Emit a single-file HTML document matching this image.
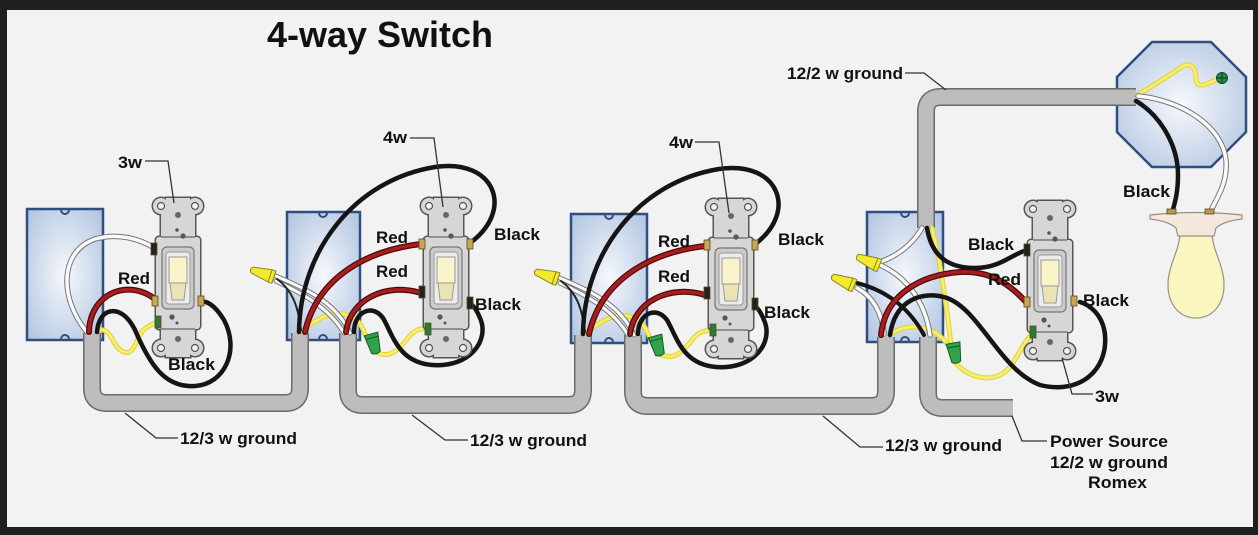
<!DOCTYPE html>
<html><head><meta charset="utf-8"><style>
html,body{margin:0;padding:0;background:#1f1f1f;}
svg{display:block;}
text{font-family:"Liberation Sans",Arial,sans-serif;font-weight:bold;fill:#111;font-size:17px;}
</style></head><body>
<svg width="1258" height="535" viewBox="0 0 1258 535" xmlns="http://www.w3.org/2000/svg">
<defs>
<radialGradient id="boxg" cx="50%" cy="50%" r="65%">
<stop offset="0%" stop-color="#f6f8fc"/><stop offset="100%" stop-color="#b4c7e2"/>
</radialGradient>
<g id="swo">
<circle cx="-17" cy="9" r="8"/><circle cx="17" cy="9" r="8"/><rect x="-12" y="1" width="24" height="18"/>
<rect x="-17" y="12" width="34" height="136"/>
<rect x="-22" y="40" width="44" height="92" rx="3"/>
<circle cx="-17" cy="151" r="8"/><circle cx="17" cy="151" r="8"/><rect x="-12" y="142" width="24" height="18"/>
</g>
<g id="sw">
<use href="#swo" fill="#555" stroke="#555" stroke-width="3"/>
<use href="#swo" fill="#d6d6d6"/>
<line x1="-17" y1="40" x2="17" y2="40" stroke="#666" stroke-width="1.2"/>
<line x1="-17" y1="132" x2="17" y2="132" stroke="#666" stroke-width="1.2"/>
<circle cx="-17" cy="9" r="3.5" fill="#f2f2f2" stroke="#555" stroke-width="1.2"/>
<circle cx="17" cy="9" r="3.5" fill="#f2f2f2" stroke="#555" stroke-width="1.2"/>
<circle cx="-17" cy="151" r="3.5" fill="#f2f2f2" stroke="#555" stroke-width="1.2"/>
<circle cx="17" cy="151" r="3.5" fill="#f2f2f2" stroke="#555" stroke-width="1.2"/>
<circle cx="0" cy="18" r="3" fill="#666"/>
<circle cx="0" cy="142" r="3" fill="#666"/>
<circle cx="-1" cy="33" r="1.8" fill="#555"/><circle cx="5" cy="39" r="2.6" fill="#555"/>
<circle cx="-6" cy="120" r="2.6" fill="#555"/><circle cx="-1" cy="126" r="1.5" fill="#555"/>
<rect x="-16" y="50" width="32" height="62" rx="5" fill="#cbcbcb" stroke="#777" stroke-width="1.2"/>
<rect x="-12" y="55" width="24" height="52" rx="3" fill="#ececec" stroke="#999" stroke-width="1"/>
<rect x="-9" y="60" width="18" height="26" fill="#f8f3c9" stroke="#999" stroke-width="1"/>
<polygon points="-8,86 8,86 6,103 -6,103" fill="#ebe3b6" stroke="#999" stroke-width="1"/>
</g>
<g id="ynut"><path d="M0,-3 L19,-6.5 L23,-6.5 L23,6.5 L19,6.5 L0,3 Q-3,0 0,-3 Z" fill="#f3e92e" stroke="#8c8420" stroke-width="1"/><line x1="19" y1="-6" x2="19" y2="6" stroke="#8c8420"/></g>
<g id="gnut"><path d="M-7,0 L7,0 L4.5,19 Q0,22 -4.5,19 Z" fill="#2fa24a" stroke="#145a24" stroke-width="1"/><line x1="-6" y1="4" x2="6" y2="4" stroke="#145a24"/></g>

<!-- section 2 wiring (reused for section 3) -->
<g id="sec2" fill="none" stroke-linecap="round">
<path d="M303,330 C318,318 333,310 348,315 C358,318 362,326 366,336" stroke="#e2d548" stroke-width="5"/>
<path d="M303,330 C318,318 333,310 348,315 C358,318 362,326 366,336" stroke="#f8f06a" stroke-width="2.5"/>
<path d="M376,352 C390,360 400,348 408,338 C414,330 420,328 427,329" stroke="#e2d548" stroke-width="5"/>
<path d="M376,352 C390,360 400,348 408,338 C414,330 420,328 427,329" stroke="#f8f06a" stroke-width="2.5"/>
<path d="M276,276 C302,288 335,300 350,333" stroke="#777" stroke-width="5"/>
<path d="M276,276 C302,288 335,300 350,333" stroke="#fafafa" stroke-width="3"/>
<path d="M276,281 C299,292 328,306 344,333" stroke="#777" stroke-width="5"/>
<path d="M276,281 C299,292 328,306 344,333" stroke="#fafafa" stroke-width="3"/>
<path d="M277,279 C292,290 298,305 301,330" stroke="#222" stroke-width="2"/>
<path d="M299,332 C300,250 355,180 435,167 C495,158 515,210 470,243" stroke="#151515" stroke-width="4.5"/>
<path d="M305,332 C318,275 370,250 421,244" stroke="#4e0a0a" stroke-width="6"/>
<path d="M305,332 C318,275 370,250 421,244" stroke="#a81d1d" stroke-width="3.5"/>
<path d="M346,332 C350,300 385,282 421,293" stroke="#4e0a0a" stroke-width="6"/>
<path d="M346,332 C350,300 385,282 421,293" stroke="#a81d1d" stroke-width="3.5"/>
<path d="M354,332 C354,312 372,303 383,318 C393,335 398,362 432,365 C470,368 490,340 480,318 C476,308 472,304 468,302" stroke="#151515" stroke-width="4.5"/>
<use href="#ynut" transform="translate(252,270) rotate(18)"/>
<use href="#gnut" transform="translate(371,334) rotate(-15)"/>
</g>
</defs>

<rect width="1258" height="535" fill="#1f1f1f"/>
<rect x="7" y="10" width="1246" height="517" fill="#f2f2f2"/>

<!-- boxes -->
<g stroke="#2f4f80" stroke-width="2.5" fill="url(#boxg)">
<rect x="27" y="209" width="76" height="131"/>
<rect x="287" y="212" width="73" height="128"/>
<rect x="571" y="214" width="76" height="129"/>
<rect x="867" y="212" width="76" height="130"/>
<polygon points="1152,42 1211,42 1246,77 1246,132 1211,167 1152,167 1117,132 1117,77"/>
</g>
<g fill="none" stroke="#2f4f80" stroke-width="2">
<path d="M61,210 a4,4 0 0 0 8,0"/><path d="M61,339 a4,4 0 0 1 8,0"/>
<path d="M319,213 a4,4 0 0 0 8,0"/><path d="M319,339 a4,4 0 0 1 8,0"/>
<path d="M605,215 a4,4 0 0 0 8,0"/><path d="M605,342 a4,4 0 0 1 8,0"/>
<path d="M901,213 a4,4 0 0 0 8,0"/><path d="M901,341 a4,4 0 0 1 8,0"/>
</g>

<!-- cables -->
<g fill="none" stroke-linecap="butt">
<g stroke="#6b6b6b" stroke-width="18">
<path d="M92,333 V388 Q92,403 107,403 H285 Q300,403 300,388 V333"/>
<path d="M348,333 V390 Q348,405 363,405 H568 Q583,405 583,390 V335"/>
<path d="M633,335 V391 Q633,406 648,406 H871 Q886,406 886,391 V337"/>
<path d="M928,337 V393 Q928,408 943,408 H1013"/>
<path d="M926,228 V112 Q926,97 941,97 H1136"/>
</g>
<g stroke="#bdbdbd" stroke-width="15">
<path d="M92,333 V388 Q92,403 107,403 H285 Q300,403 300,388 V333"/>
<path d="M348,333 V390 Q348,405 363,405 H568 Q583,405 583,390 V335"/>
<path d="M633,335 V391 Q633,406 648,406 H871 Q886,406 886,391 V337"/>
<path d="M928,337 V393 Q928,408 943,408 H1013"/>
<path d="M926,228 V112 Q926,97 941,97 H1136"/>
</g>
</g>

<!-- section 1 wiring -->
<g fill="none" stroke-linecap="round">
<path d="M100,330 C112,328 112,348 124,352 C136,356 136,334 146,328 C152,324 156,322 159,323" stroke="#e2d548" stroke-width="5"/>
<path d="M100,330 C112,328 112,348 124,352 C136,356 136,334 146,328 C152,324 156,322 159,323" stroke="#f8f06a" stroke-width="2.5"/>
<path d="M87,332 C60,300 58,252 95,239 C120,232 142,240 156,249" stroke="#777" stroke-width="5.5"/>
<path d="M87,332 C60,300 58,252 95,239 C120,232 142,240 156,249" stroke="#fafafa" stroke-width="3.5"/>
<path d="M89,332 C90,292 130,278 156,300" stroke="#4e0a0a" stroke-width="6"/>
<path d="M89,332 C90,292 130,278 156,300" stroke="#a81d1d" stroke-width="3.5"/>
<path d="M97,332 C99,306 122,303 135,330 C150,365 165,388 195,386 C225,384 240,350 224,320 C215,305 206,300 200,302" stroke="#151515" stroke-width="4.5"/>
</g>

<!-- section 2 & 3 wiring -->
<use href="#sec2"/>
<use href="#sec2" transform="translate(284,2)"/>

<!-- section 4 wiring -->
<g fill="none" stroke-linecap="round">
<path d="M932,228 C940,260 946,300 951,345" stroke="#e2d548" stroke-width="5"/>
<path d="M932,228 C940,260 946,300 951,345" stroke="#f8f06a" stroke-width="2.5"/>
<path d="M892,333 C910,322 935,326 948,345" stroke="#e2d548" stroke-width="5"/>
<path d="M892,333 C910,322 935,326 948,345" stroke="#f8f06a" stroke-width="2.5"/>
<path d="M955,362 C965,375 985,382 1000,375 C1015,368 1020,345 1033,333" stroke="#e2d548" stroke-width="5"/>
<path d="M955,362 C965,375 985,382 1000,375 C1015,368 1020,345 1033,333" stroke="#f8f06a" stroke-width="2.5"/>
<path d="M922,228 C912,245 897,256 880,262" stroke="#777" stroke-width="5.5"/>
<path d="M922,228 C912,245 897,256 880,262" stroke="#fafafa" stroke-width="3.5"/>
<path d="M880,265 C905,276 925,300 930,335" stroke="#777" stroke-width="5.5"/>
<path d="M880,265 C905,276 925,300 930,335" stroke="#fafafa" stroke-width="3.5"/>
<path d="M857,288 C872,296 882,312 884,334" stroke="#777" stroke-width="5.5"/>
<path d="M857,288 C872,296 882,312 884,334" stroke="#fafafa" stroke-width="3.5"/>
<path d="M857,283 C885,290 908,306 924,335" stroke="#151515" stroke-width="4"/>
<path d="M881,335 C885,295 920,275 960,272 C995,270 1015,290 1027,303" stroke="#4e0a0a" stroke-width="6"/>
<path d="M881,335 C885,295 920,275 960,272 C995,270 1015,290 1027,303" stroke="#a81d1d" stroke-width="3.5"/>
<path d="M890,335 C895,300 922,290 947,298 C980,310 1000,370 1040,385 C1080,395 1108,370 1105,335 C1103,315 1090,305 1080,302" stroke="#151515" stroke-width="4.5"/>
<path d="M927,228 C932,258 950,268 975,268 C1000,268 1010,255 1027,250" stroke="#151515" stroke-width="4.5"/>
<use href="#ynut" transform="translate(858,257) rotate(22)"/>
<use href="#ynut" transform="translate(833,277) rotate(22)"/>
<use href="#gnut" transform="translate(953,343) rotate(-10)"/>
<!-- octagon wires -->
<path d="M1137,95 C1150,88 1165,78 1180,68 C1190,60 1196,68 1196,78 C1196,90 1205,85 1220,78" stroke="#e2d548" stroke-width="5"/>
<path d="M1137,95 C1150,88 1165,78 1180,68 C1190,60 1196,68 1196,78 C1196,90 1205,85 1220,78" stroke="#f8f06a" stroke-width="2.5"/>
<path d="M1138,96 C1180,100 1222,125 1226,160 C1228,185 1215,200 1210,213" stroke="#777" stroke-width="5.5"/>
<path d="M1138,96 C1180,100 1222,125 1226,160 C1228,185 1215,200 1210,213" stroke="#fafafa" stroke-width="3.5"/>
<path d="M1136,101 C1160,115 1178,145 1178,175 C1178,195 1174,205 1172,213" stroke="#151515" stroke-width="4.5"/>
</g>
<circle cx="1222" cy="78" r="5.5" fill="#2a8a4a" stroke="#124a24" stroke-width="1"/>
<path d="M1217,78 H1227 M1222,73 V83" stroke="#124a24" stroke-width="1.2"/>

<!-- bulb -->
<path d="M1180,232 C1180,250 1168,265 1168,285 C1168,305 1180,318 1196,318 C1212,318 1224,305 1224,285 C1224,265 1212,250 1212,232 Z" fill="#fbf5c0" stroke="#9a9a8a" stroke-width="1.3"/>
<path d="M1150,215 Q1196,210 1242,215 L1242,219 Q1224,221 1216,228 L1214,236 L1178,236 L1176,228 Q1168,221 1150,219 Z" fill="#f4e8dc" stroke="#9a8f85" stroke-width="1.2"/>
<rect x="1167" y="209" width="9" height="5" fill="#b89a50" stroke="#5a4a20" stroke-width="0.8"/>
<rect x="1205" y="209" width="9" height="5" fill="#b89a50" stroke="#5a4a20" stroke-width="0.8"/>

<!-- switches -->
<use href="#sw" transform="translate(178,197)"/>
<use href="#sw" transform="translate(446,197)"/>
<use href="#sw" transform="translate(731,198)"/>
<use href="#sw" transform="translate(1050,200)"/>

<!-- terminals -->
<g stroke="#5a4a20" stroke-width="0.8">
<rect x="151" y="243" width="6" height="12" fill="#222"/>
<rect x="152" y="296" width="6" height="10" fill="#c9a556"/>
<rect x="198" y="296" width="6" height="10" fill="#c9a556"/>
<rect x="155" y="316" width="6" height="12" fill="#2a7a3a"/>
<rect x="419" y="239" width="6" height="10" fill="#c9a556"/>
<rect x="467" y="239" width="6" height="10" fill="#c9a556"/>
<rect x="419" y="286" width="6" height="12" fill="#222"/>
<rect x="467" y="297" width="6" height="12" fill="#222"/>
<rect x="425" y="323" width="6" height="12" fill="#2a7a3a"/>
<rect x="704" y="240" width="6" height="10" fill="#c9a556"/>
<rect x="752" y="240" width="6" height="10" fill="#c9a556"/>
<rect x="704" y="287" width="6" height="12" fill="#222"/>
<rect x="752" y="298" width="6" height="12" fill="#222"/>
<rect x="710" y="324" width="6" height="12" fill="#2a7a3a"/>
<rect x="1024" y="244" width="6" height="12" fill="#222"/>
<rect x="1024" y="297" width="6" height="10" fill="#c9a556"/>
<rect x="1071" y="296" width="6" height="10" fill="#c9a556"/>
<rect x="1030" y="326" width="6" height="12" fill="#2a7a3a"/>
</g>

<!-- leader lines -->
<g fill="none" stroke="#333" stroke-width="1.3">
<path d="M145,161 H168 L174,203"/>
<path d="M410,138 H434 L443,207"/>
<path d="M695,142 H719 L729,213"/>
<path d="M905,73 H924 L946,90"/>
<path d="M1062,358 L1072,394 H1093"/>
<path d="M125,413 L156,438 H178"/>
<path d="M412,415 L445,440 H468"/>
<path d="M823,416 L860,447 H883"/>
<path d="M1012,416 L1022,441 H1047"/>
</g>

<!-- labels -->
<text x="267" y="47" style="font-size:36px" textLength="226" lengthAdjust="spacingAndGlyphs">4-way Switch</text>
<text x="118" y="168" textLength="24" lengthAdjust="spacingAndGlyphs">3w</text>
<text x="118" y="284" textLength="32" lengthAdjust="spacingAndGlyphs">Red</text>
<text x="168" y="370" textLength="47" lengthAdjust="spacingAndGlyphs">Black</text>
<text x="180" y="444" textLength="117" lengthAdjust="spacingAndGlyphs">12/3 w ground</text>
<text x="383" y="143" textLength="24" lengthAdjust="spacingAndGlyphs">4w</text>
<text x="376" y="243" textLength="32" lengthAdjust="spacingAndGlyphs">Red</text>
<text x="376" y="277" textLength="32" lengthAdjust="spacingAndGlyphs">Red</text>
<text x="494" y="240" textLength="46" lengthAdjust="spacingAndGlyphs">Black</text>
<text x="475" y="310" textLength="46" lengthAdjust="spacingAndGlyphs">Black</text>
<text x="470" y="446" textLength="117" lengthAdjust="spacingAndGlyphs">12/3 w ground</text>
<text x="669" y="148" textLength="24" lengthAdjust="spacingAndGlyphs">4w</text>
<text x="658" y="247" textLength="32" lengthAdjust="spacingAndGlyphs">Red</text>
<text x="658" y="282" textLength="32" lengthAdjust="spacingAndGlyphs">Red</text>
<text x="778" y="245" textLength="46" lengthAdjust="spacingAndGlyphs">Black</text>
<text x="764" y="318" textLength="46" lengthAdjust="spacingAndGlyphs">Black</text>
<text x="885" y="451" textLength="117" lengthAdjust="spacingAndGlyphs">12/3 w ground</text>
<text x="787" y="79" textLength="116" lengthAdjust="spacingAndGlyphs">12/2 w ground</text>
<text x="968" y="250" textLength="46" lengthAdjust="spacingAndGlyphs">Black</text>
<text x="988" y="285" textLength="33" lengthAdjust="spacingAndGlyphs">Red</text>
<text x="1083" y="306" textLength="46" lengthAdjust="spacingAndGlyphs">Black</text>
<text x="1123" y="197" textLength="47" lengthAdjust="spacingAndGlyphs">Black</text>
<text x="1095" y="402" textLength="24" lengthAdjust="spacingAndGlyphs">3w</text>
<text x="1050" y="447" textLength="118" lengthAdjust="spacingAndGlyphs">Power Source</text>
<text x="1050" y="468" textLength="118" lengthAdjust="spacingAndGlyphs">12/2 w ground</text>
<text x="1088" y="488" textLength="59" lengthAdjust="spacingAndGlyphs">Romex</text>
</svg>
</body></html>
